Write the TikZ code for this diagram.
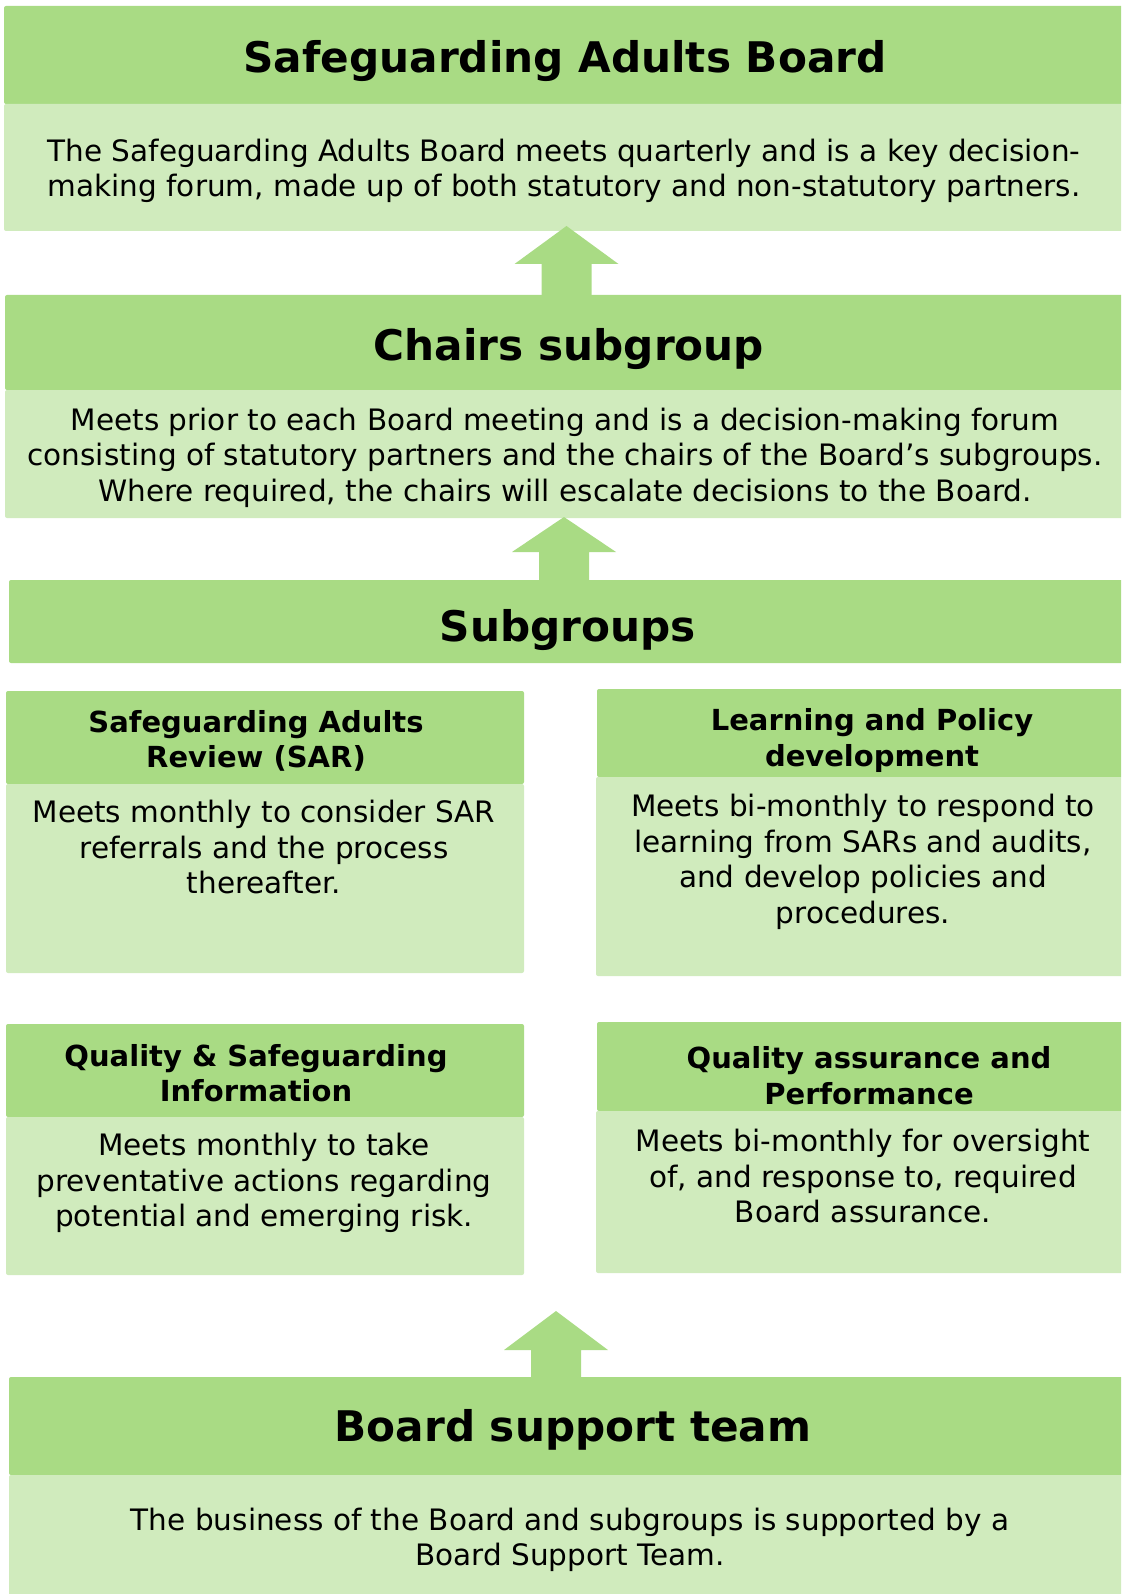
\documentclass[tikz,border=0pt]{standalone}
\usepackage{fontspec}
\setmainfont{DejaVu Sans}
\usetikzlibrary{calc}
\definecolor{hdrgreen}{RGB}{169,219,132}
\definecolor{bodygreen}{RGB}{208,235,189}
% block arrow pointing up: name, centre x, tip y, head base y, node it rises from
\newcommand\liftarrow[5]{%
  \coordinate (#1-tip) at (#2,#3);
  \coordinate (#1-r) at ({#2+25},#4);
  \coordinate (#1-l) at ({#2-25},#4);
  \fill[uparrow] (#1-tip) -- ({#2+52},#4) -- (#1-r) -- (#1-r |- #5.north)
    -- (#1-l |- #5.north) -- (#1-l) -- ({#2-52},#4) -- cycle;}
\begin{document}
\begin{tikzpicture}[x=1pt,y=-1pt,
  panel/.style={anchor=north west, inner sep=0pt, outer sep=0pt, rounded corners=2pt},
  hdr/.style={panel, fill=hdrgreen},
  bdy/.style={panel, fill=bodygreen},
  bigtitle/.style={font=\fontsize{42.2}{50}\selectfont\bfseries, inner sep=0pt},
  subtitle/.style={font=\fontsize{29}{35.5}\selectfont\bfseries, align=center, inner sep=0pt},
  bodytext/.style={font=\fontsize{29.5}{35.5}\selectfont, align=center, inner sep=0pt},
  uparrow/.style={fill=hdrgreen}]
\useasboundingbox (0,0) rectangle (1121,1594);
\clip (0,0) rectangle (1121,1594);

% Safeguarding Adults Board
\node[hdr, minimum width=1122, minimum height=98] (boardH) at (4,6) {};
\node[bdy, minimum width=1122, minimum height=127] (boardB) at (4,104) {};
\node[bigtitle] (boardT) at (565,61) {Safeguarding Adults Board};
\node[bodytext] (boardX) at (564,171) {The Safeguarding Adults Board meets quarterly and is a key decision-\\making forum, made up of both statutory and non-statutory partners.};

% Chairs subgroup
\node[hdr, minimum width=1126, minimum height=95] (chairH) at (5,295) {};
\node[bdy, minimum width=1126, minimum height=128] (chairB) at (5,390) {};
\node[bigtitle] (chairT) at (569,349) {Chairs subgroup};
\node[bodytext] (chairX) at (565,457.5) {Meets prior to each Board meeting and is a decision-making forum\\consisting of statutory partners and the chairs of the Board’s subgroups.\\Where required, the chairs will escalate decisions to the Board.};

% Subgroups banner
\node[hdr, minimum width=1120, minimum height=83] (subH) at (9,580) {};
\node[bigtitle] (subT) at (568,630) {Subgroups};

% SAR
\node[hdr, minimum width=518, minimum height=93] (sarH) at (6,691) {};
\node[bdy, minimum width=518, minimum height=189] (sarB) at (6,784) {};
\node[subtitle] (sarT) at (256,741) {Safeguarding Adults\\Review (SAR)};
\node[bodytext] (sarX) at (264,847) {Meets monthly to consider SAR\\referrals and the process\\thereafter.};

% Learning and Policy development
\node[hdr, minimum width=536, minimum height=88] (lpdH) at (597,689) {};
\node[bdy, minimum width=537, minimum height=199] (lpdB) at (596,777) {};
\node[subtitle] (lpdT) at (872,740.5) {Learning and Policy\\development};
\node[bodytext] (lpdX) at (863,862) {Meets bi-monthly to respond to\\learning from SARs and audits,\\and develop policies and\\procedures.};

% Quality & Safeguarding Information
\node[hdr, minimum width=518, minimum height=93] (qsiH) at (6,1024) {};
\node[bdy, minimum width=518, minimum height=158] (qsiB) at (6,1117) {};
\node[subtitle] (qsiT) at (256,1073) {Quality \& Safeguarding\\Information};
\node[bodytext] (qsiX) at (264,1183) {Meets monthly to take\\preventative actions regarding\\potential and emerging risk.};

% Quality assurance and Performance
\node[hdr, minimum width=536, minimum height=89] (qapH) at (597,1022) {};
\node[bdy, minimum width=537, minimum height=162] (qapB) at (596,1111) {};
\node[subtitle] (qapT) at (869,1075.5) {Quality assurance and\\Performance};
\node[bodytext] (qapX) at (863,1176) {Meets bi-monthly for oversight\\of, and response to, required\\Board assurance.};

% Board support team
\node[hdr, minimum width=1124, minimum height=98] (bstH) at (9,1377) {};
\node[bdy, minimum width=1124, minimum height=130] (bstB) at (9,1475) {};
\node[bigtitle] (bstT) at (573,1430) {Board support team};
\node[bodytext] (bstX) at (570,1540) {The business of the Board and subgroups is supported by a\\Board Support Team.};

% upward arrows
\liftarrow{upA}{566.5}{226}{264}{chairH}
\liftarrow{upB}{564}{517}{552}{subH}
\liftarrow{upC}{556}{1311}{1350}{bstH}
\end{tikzpicture}
\end{document}
